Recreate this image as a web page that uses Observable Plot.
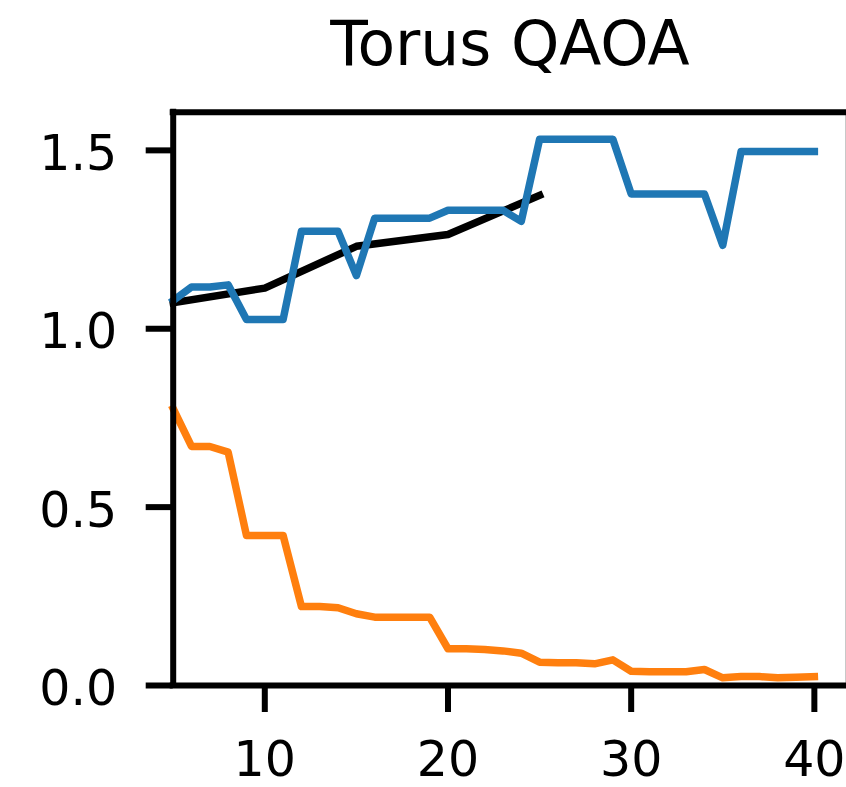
<!DOCTYPE html>
<html>
<head>
<meta charset="utf-8">
<script src="https://cdn.jsdelivr.net/npm/d3@7"></script>
<script src="https://cdn.jsdelivr.net/npm/@observablehq/plot@0.6"></script>
<style>
  html, body { margin: 0; padding: 0; background: #fff; overflow: hidden; }
  #title { position: relative; height: 100px; font-family: "DejaVu Sans", sans-serif; }
  #title span { position: absolute; left: 510px; top: 14px; transform: translateX(-50%);
    font-size: 61.5px; line-height: 61.5px; white-space: nowrap; color: #000; }
</style>
</head>
<body>
<div id="title"><span>Torus QAOA</span></div>
<div id="chart"></div>
<script>
const titleText = "Torus QAOA";

const steps = [5,6,7,8,9,10,11,12,13,14,15,16,17,18,19,20,21,22,23,24,25,26,27,28,29,30,31,32,33,34,35,36,37,38,39,40];

const blueSeries = [1.079,1.117,1.117,1.123,1.026,1.026,1.026,1.273,1.273,1.273,1.149,1.310,1.310,1.310,1.310,1.332,1.332,1.332,1.332,1.301,1.531,1.531,1.531,1.531,1.531,1.378,1.378,1.378,1.378,1.378,1.234,1.497,1.497,1.497,1.497,1.497];

const orangeSeries = [0.776,0.670,0.670,0.654,0.4205,0.4205,0.4205,0.2215,0.2215,0.218,0.201,0.1916,0.1916,0.1916,0.1916,0.103,0.103,0.101,0.097,0.0906,0.0654,0.064,0.064,0.0608,0.072,0.040,0.0383,0.0383,0.0383,0.0449,0.0215,0.025,0.025,0.0215,0.023,0.025];

const blackSteps = [5,10,15,20,25];
const blackSeries = [1.073,1.114,1.231,1.264,1.374];

const xTicks = [10,20,30,40];
const yTicks = [0.0,0.5,1.0,1.5];

const xDomain = [5, 41.7];
const yDomain = [0, 1.607];

const blueData = steps.map((s, i) => ({x: s, y: blueSeries[i]}));
const orangeData = steps.map((s, i) => ({x: s, y: orangeSeries[i]}));
const blackData = blackSteps.map((s, i) => ({x: s, y: blackSeries[i]}));

const lw = 7.5;
const sw = 6;

const plot = Plot.plot({
  width: 846,
  height: 687,
  marginLeft: 172.7,
  marginRight: 1,
  marginTop: 11.7,
  marginBottom: 102,
  style: {fontFamily: "DejaVu Sans", background: "white", color: "black", overflow: "visible"},
  x: {domain: xDomain},
  y: {domain: yDomain},
  marks: [
    Plot.line(blackData, {x: "x", y: "y", stroke: "black", strokeWidth: lw, strokeLinecap: "square", strokeLinejoin: "round"}),
    Plot.line(blueData, {x: "x", y: "y", stroke: "#1f77b4", strokeWidth: lw, strokeLinecap: "square", strokeLinejoin: "round"}),
    Plot.line(orangeData, {x: "x", y: "y", stroke: "#ff7f0e", strokeWidth: lw, strokeLinecap: "square", strokeLinejoin: "round"}),
    Plot.ruleX([xDomain[1]], {stroke: "#c8c8c8", strokeWidth: 1}),
    Plot.ruleY([yDomain[1]], {stroke: "black", strokeWidth: sw, strokeLinecap: "square"}),
    Plot.ruleY([yDomain[0]], {stroke: "black", strokeWidth: sw, strokeLinecap: "square"}),
    Plot.ruleX([xDomain[0]], {stroke: "black", strokeWidth: sw, strokeLinecap: "square"}),
    Plot.axisX({ticks: xTicks, tickSize: 27, tickPadding: 29, fontSize: 49, strokeWidth: sw, label: null, tickFormat: d => String(d)}),
    Plot.axisY({ticks: yTicks, tickSize: 27, strokeWidth: sw, fill: "none", label: null}),
    Plot.axisY({ticks: yTicks, tickSize: 27, tickPadding: 29, stroke: "none", fontSize: 49, dy: 4, label: null, tickFormat: d => d.toFixed(1)})
  ]
});
document.getElementById("chart").appendChild(plot);
</script>
</body>
</html>
